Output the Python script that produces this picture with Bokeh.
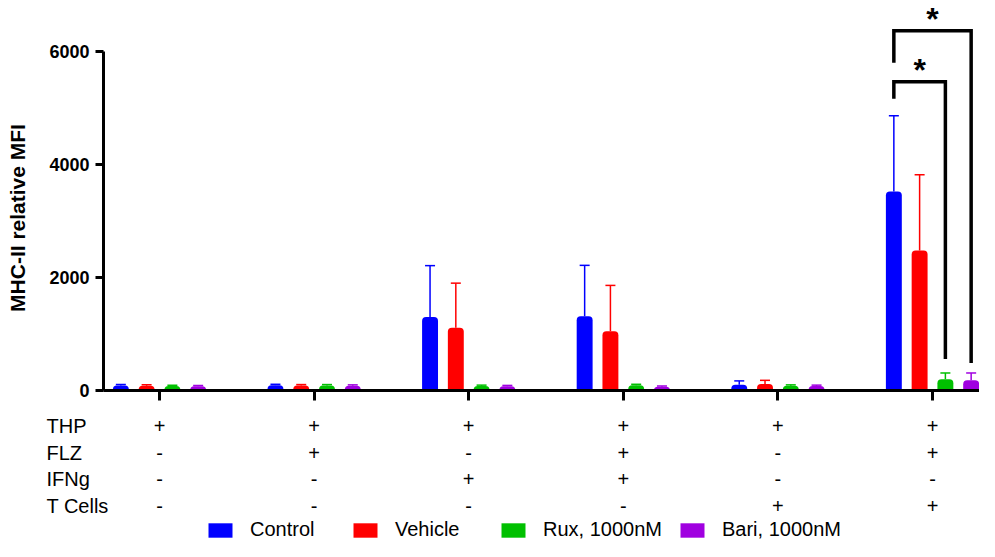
from bokeh.plotting import figure
from bokeh.models import (ColumnDataSource, FixedTicker, Whisker, TeeHead, Legend,
                          LegendItem, Range1d, Label)
from bokeh.core.properties import value
from bokeh.embed import file_html
from bokeh.resources import INLINE

# ---------------- data ----------------
conditions = ["THP", "FLZ", "IFNg", "T Cells"]
thp_row = ["+", "+", "+", "+", "+", "+"]
flz_row = ["-", "+", "-", "+", "-", "+"]
ifng_row = ["-", "-", "+", "+", "-", "-"]
tcells_row = ["-", "-", "-", "-", "+", "+"]

series = ["Control", "Vehicle", "Rux, 1000nM", "Bari, 1000nM"]
colors = ["#0000FF", "#FF0000", "#00C000", "#A000E0"]

control_mean = [90, 95, 1300, 1315, 100, 3520]
control_err = [15, 15, 910, 900, 70, 1345]
vehicle_mean = [85, 90, 1110, 1050, 115, 2480]
vehicle_err = [15, 15, 790, 810, 65, 1340]
rux_mean = [80, 90, 80, 95, 85, 200]
rux_err = [15, 15, 15, 15, 15, 110]
bari_mean = [75, 85, 75, 65, 80, 180]
bari_err = [15, 15, 15, 15, 15, 130]

y_ticks = [0, 2000, 4000, 6000]
y_title = "MHC-II relative MFI"

sig_group = 5
comparisons = [("Control", "Rux, 1000nM"), ("Control", "Bari, 1000nM")]
sig_labels = ["*", "*"]

means = [control_mean, vehicle_mean, rux_mean, bari_mean]
errs = [control_err, vehicle_err, rux_err, bari_err]
n_groups = len(control_mean)
groups = list(range(n_groups))

# ---------------- layout constants (pixels) ----------------
W, H = 979, 541
GX = 154.6          # px per group
G0 = 159            # x pixel of first group
AX0 = 103           # x pixel of the y axis
Y0 = 390            # y pixel of zero
PX = 6000 / 339.0   # data units per vertical pixel
offsets = [-0.25, -1 / 12, 1 / 12, 0.25]
bar_w = 0.103
FONT = "Liberation Sans"


def dx(px):
    return (px - G0) / GX


def dy(py):
    return (Y0 - py) * PX


p = figure(width=W, height=H, output_backend="svg", toolbar_location=None,
           x_range=Range1d(dx(0), dx(W)), y_range=Range1d(dy(H), dy(0)),
           min_border=0)
p.grid.visible = False
p.outline_line_color = None
p.background_fill_color = "white"

bar_x, tops, renderers = {}, {}, []
for k, name in enumerate(series):
    xs = [g + offsets[k] for g in groups]
    bar_x[name] = xs
    tops[name] = [m + e for m, e in zip(means[k], errs[k])]
    src = ColumnDataSource(dict(x=xs, top=means[k], up=tops[name]))
    r = p.vbar(x="x", top="top", bottom=0, width=bar_w, source=src,
               fill_color=colors[k], line_color=None, border_radius=(4, 4, 0, 0))
    renderers.append(r)
    p.add_layout(Whisker(source=src, base="x", lower="top", upper="up", dimension="height",
                         line_color=colors[k], line_width=1.5, lower_head=None,
                         upper_head=TeeHead(size=10, line_color=colors[k], line_width=1.5)))

# significance brackets, derived from the data tops
ctrl_top = tops["Control"][sig_group]
bx, by, sx, sy = [], [], [], []
level = None
for i, (a, b) in enumerate(comparisons):
    xa = bar_x[a][sig_group]
    xb = bar_x[b][sig_group]
    if i == 0:
        left_tip = ctrl_top + 17 * PX
        lvl = left_tip + 17 * PX
    else:
        left_tip = level + 19 * PX
        lvl = left_tip + 32 * PX
    right_tip = tops[b][sig_group] + (14 if i == 0 else 10) * PX
    level = lvl
    bx.append([xa, xa, xb, xb])
    by.append([left_tip, lvl, lvl, right_tip])
    sx.append((xa + xb) / 2)
    sy.append(lvl + 30 * PX)

p.multi_line(xs=bx, ys=by, line_color="black", line_width=3.5, line_join="miter")
p.text(x=sx, y=sy, text=sig_labels, text_align="center", text_baseline="top",
       text_font=value(FONT), text_font_style="bold",
       text_font_size="32px", text_color="black")

# axes, fixed inside the frame
ya = p.yaxis[0]
ya.fixed_location = dx(AX0)
ya.ticker = FixedTicker(ticks=y_ticks)
ya.bounds = (y_ticks[0], y_ticks[-1])
ya.axis_line_width = 3
ya.axis_line_color = "black"
ya.major_tick_line_width = 3
ya.major_tick_out = 8
ya.major_tick_in = 0
ya.minor_tick_line_color = None
ya.major_label_text_font = FONT
ya.major_label_text_font_style = "bold"
ya.major_label_text_font_size = "18px"
ya.major_label_text_color = "black"
ya.major_label_standoff = 6

xa_ = p.xaxis[0]
xa_.fixed_location = 0
xa_.ticker = FixedTicker(ticks=groups)
xa_.bounds = (dx(AX0), dx(W))
xa_.major_label_overrides = {g: "" for g in groups}
xa_.major_label_text_font_size = "1px"
xa_.major_label_standoff = 0
xa_.axis_line_width = 3
xa_.axis_line_color = "black"
xa_.major_tick_line_width = 3
xa_.major_tick_out = 10
xa_.major_tick_in = 0
xa_.minor_tick_line_color = None

# y-axis title, centred on the axis span
p.add_layout(Label(x=dx(17), y=(y_ticks[0] + y_ticks[-1]) / 2 + 3 * PX, text=y_title,
                   angle=90, angle_units="deg", text_align="center", text_baseline="middle",
                   text_font=FONT, text_font_style="bold", text_font_size="21px",
                   text_color="black"))

# condition table below the axis
ROW0, ROW_STEP = 425.5, 26.5
rows = [thp_row, flz_row, ifng_row, tcells_row]
for i, row in enumerate(rows):
    ry = dy(ROW0 + i * ROW_STEP)
    p.add_layout(Label(x=dx(46), y=ry, text=conditions[i], text_align="left",
                       text_baseline="middle", text_font=FONT, text_font_size="20px",
                       text_color="black"))
    for g in groups:
        p.add_layout(Label(x=g, y=ry, text=row[g], text_align="center",
                           text_baseline="middle", text_font=FONT, text_font_size="20px",
                           text_color="black"))

# legend: one entry each, placed below the table
legend_x = [205, 350, 498, 677]
for k, name in enumerate(series):
    lg = Legend(items=[LegendItem(label=name, renderers=[renderers[k]])],
                location=(legend_x[k], 0),
                orientation="horizontal", glyph_width=30, glyph_height=18,
                label_height=18, label_standoff=15, padding=0, margin=0,
                border_line_color=None, background_fill_alpha=0,
                label_text_font=FONT, label_text_font_size="20px",
                label_text_color="black")
    p.add_layout(lg)

open("out.html", "w").write(file_html(p, INLINE))
